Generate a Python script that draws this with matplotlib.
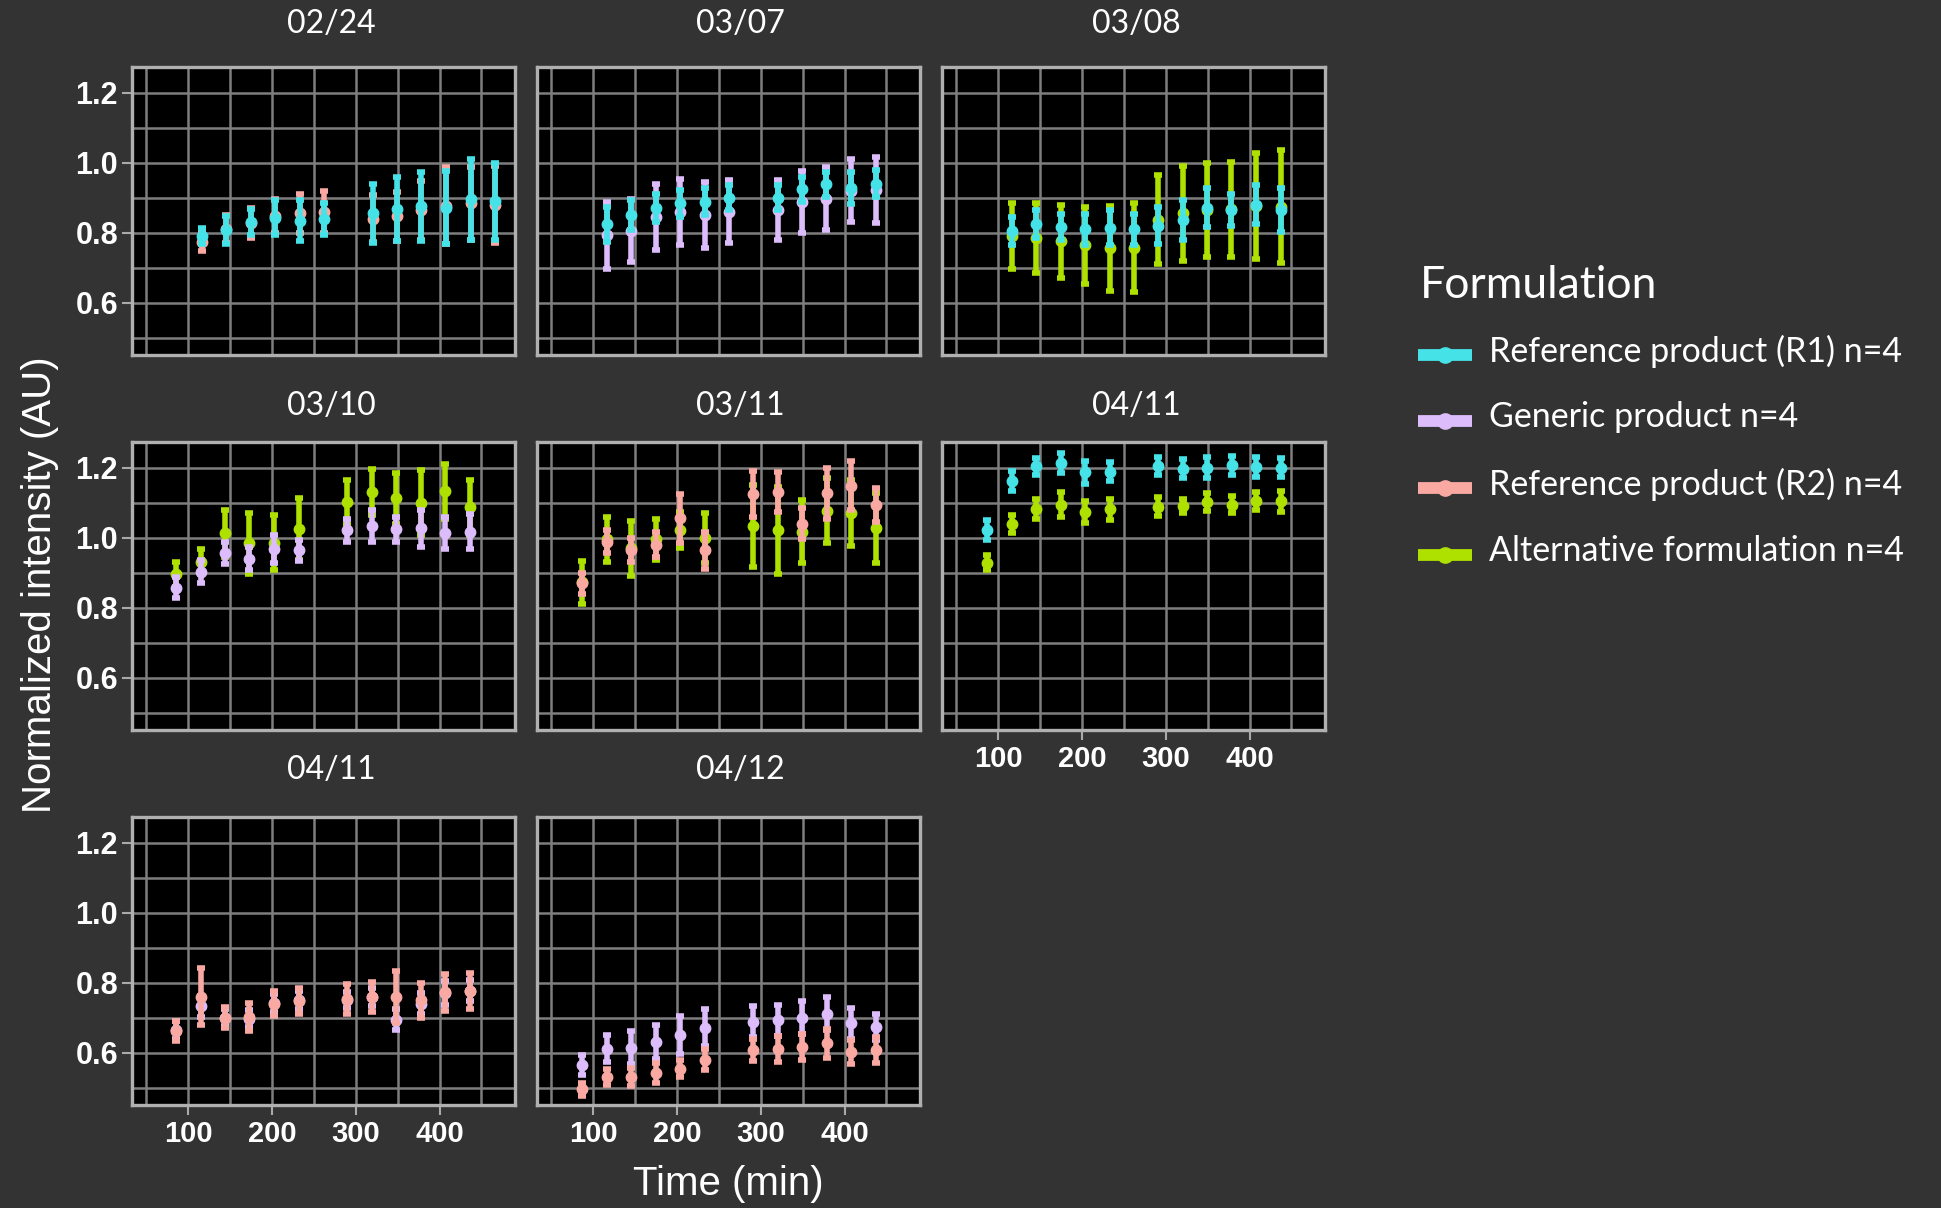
import matplotlib
matplotlib.use("Agg")
import matplotlib.pyplot as plt
from matplotlib.lines import Line2D

# Facet titles, in facet order
panel_titles = ["02/24", "03/07", "03/08", "03/10", "03/11", "04/11", "04/11", "04/12"]

# Sampling times (min)
t_0224 = [116, 145, 175, 204, 233, 262, 320, 349, 378, 408, 437, 466]
t_0307 = [116, 145, 175, 204, 233, 262, 320, 349, 378, 408, 437]
t_0308 = [116, 145, 175, 204, 233, 262, 291, 320, 349, 378, 408, 437]
t_a = [86, 115, 144, 173, 202, 232, 290, 319, 348, 378, 407, 436]
t_b = [87, 116, 145, 175, 204, 233, 291, 320, 349, 379, 408, 437]

# 02/24
p1_r1_mean = [0.79, 0.807, 0.83, 0.842, 0.834, 0.838, 0.855, 0.867, 0.875, 0.871, 0.895, 0.89]
p1_r1_sd = [0.024, 0.04, 0.038, 0.05, 0.058, 0.046, 0.085, 0.092, 0.098, 0.105, 0.115, 0.11]
p1_r2_mean = [0.774, 0.81, 0.828, 0.848, 0.855, 0.86, 0.84, 0.846, 0.863, 0.877, 0.884, 0.88]
p1_r2_sd = [0.027, 0.04, 0.043, 0.048, 0.055, 0.06, 0.067, 0.07, 0.085, 0.111, 0.104, 0.11]

# 03/07
p2_gen_mean = [0.792, 0.805, 0.845, 0.859, 0.851, 0.86, 0.865, 0.888, 0.896, 0.92, 0.921]
p2_gen_sd = [0.095, 0.09, 0.095, 0.095, 0.094, 0.09, 0.085, 0.088, 0.09, 0.091, 0.095]
p2_r1_mean = [0.823, 0.85, 0.87, 0.883, 0.888, 0.9, 0.9, 0.923, 0.938, 0.927, 0.94]
p2_r1_sd = [0.05, 0.043, 0.04, 0.038, 0.038, 0.036, 0.035, 0.036, 0.036, 0.046, 0.038]

# 03/08
p3_alt_mean = [0.79, 0.784, 0.775, 0.763, 0.755, 0.756, 0.837, 0.855, 0.865, 0.866, 0.876, 0.874]
p3_alt_sd = [0.093, 0.099, 0.105, 0.11, 0.121, 0.127, 0.127, 0.135, 0.135, 0.135, 0.152, 0.161]
p3_r1_mean = [0.804, 0.823, 0.816, 0.809, 0.814, 0.809, 0.82, 0.836, 0.871, 0.865, 0.88, 0.864]
p3_r1_sd = [0.04, 0.04, 0.038, 0.045, 0.05, 0.045, 0.053, 0.056, 0.055, 0.046, 0.055, 0.062]

# 03/10
p4_alt_mean = [0.895, 0.931, 1.012, 0.984, 0.985, 1.025, 1.102, 1.13, 1.112, 1.1, 1.132, 1.086]
p4_alt_sd = [0.035, 0.036, 0.068, 0.087, 0.078, 0.088, 0.062, 0.066, 0.072, 0.093, 0.078, 0.078]
p4_gen_mean = [0.857, 0.902, 0.955, 0.94, 0.966, 0.963, 1.021, 1.033, 1.023, 1.026, 1.013, 1.017]
p4_gen_sd = [0.031, 0.033, 0.032, 0.033, 0.04, 0.03, 0.033, 0.045, 0.035, 0.052, 0.047, 0.05]

# 03/11
p5_alt_mean = [0.872, 0.995, 0.969, 0.995, 1.022, 0.998, 1.033, 1.021, 1.016, 1.076, 1.07, 1.027]
p5_alt_sd = [0.061, 0.065, 0.079, 0.058, 0.052, 0.072, 0.117, 0.124, 0.09, 0.093, 0.095, 0.099]
p5_r2_mean = [0.87, 0.988, 0.965, 0.98, 1.055, 0.963, 1.125, 1.13, 1.04, 1.127, 1.148, 1.093]
p5_r2_sd = [0.03, 0.033, 0.035, 0.035, 0.07, 0.053, 0.066, 0.058, 0.045, 0.073, 0.07, 0.048]

# 04/11 (top)
p6_r1_mean = [1.021, 1.162, 1.203, 1.212, 1.186, 1.188, 1.204, 1.197, 1.2, 1.207, 1.201, 1.2]
p6_r1_sd = [0.029, 0.029, 0.023, 0.029, 0.032, 0.027, 0.026, 0.027, 0.029, 0.027, 0.029, 0.027]
p6_alt_mean = [0.928, 1.038, 1.081, 1.094, 1.073, 1.081, 1.088, 1.09, 1.102, 1.094, 1.104, 1.103]
p6_alt_sd = [0.022, 0.025, 0.029, 0.035, 0.031, 0.03, 0.027, 0.02, 0.026, 0.025, 0.025, 0.029]

# 04/11 (bottom)
p7_gen_mean = [0.664, 0.732, 0.7, 0.697, 0.742, 0.75, 0.75, 0.759, 0.694, 0.74, 0.77, 0.776]
p7_gen_sd = [0.025, 0.03, 0.025, 0.025, 0.025, 0.025, 0.024, 0.025, 0.03, 0.03, 0.035, 0.03]
p7_r2_mean = [0.662, 0.76, 0.699, 0.702, 0.74, 0.747, 0.753, 0.759, 0.758, 0.75, 0.772, 0.776]
p7_r2_sd = [0.028, 0.082, 0.03, 0.04, 0.036, 0.036, 0.042, 0.043, 0.075, 0.05, 0.052, 0.052]

# 04/12
p8_gen_mean = [0.564, 0.611, 0.614, 0.63, 0.65, 0.671, 0.688, 0.692, 0.7, 0.711, 0.683, 0.673]
p8_gen_sd = [0.029, 0.039, 0.048, 0.049, 0.053, 0.052, 0.045, 0.045, 0.046, 0.048, 0.043, 0.036]
p8_r2_mean = [0.495, 0.53, 0.53, 0.542, 0.554, 0.58, 0.607, 0.611, 0.616, 0.626, 0.602, 0.607]
p8_r2_sd = [0.018, 0.024, 0.026, 0.028, 0.025, 0.031, 0.031, 0.037, 0.037, 0.042, 0.035, 0.036]

legend_labels = ["Reference product (R1) n=4", "Generic product n=4",
                 "Reference product (R2) n=4", "Alternative formulation n=4"]
colors = {"r1": "#45E3E8", "gen": "#DCBCFA", "r2": "#FAA9A2", "alt": "#AEE000"}
draw_order = {"alt": 1, "gen": 2, "r2": 3, "r1": 4}

panels = [
    (t_0224, [("r1", p1_r1_mean, p1_r1_sd), ("r2", p1_r2_mean, p1_r2_sd)]),
    (t_0307, [("r1", p2_r1_mean, p2_r1_sd), ("gen", p2_gen_mean, p2_gen_sd)]),
    (t_0308, [("r1", p3_r1_mean, p3_r1_sd), ("alt", p3_alt_mean, p3_alt_sd)]),
    (t_a, [("gen", p4_gen_mean, p4_gen_sd), ("alt", p4_alt_mean, p4_alt_sd)]),
    (t_b, [("r2", p5_r2_mean, p5_r2_sd), ("alt", p5_alt_mean, p5_alt_sd)]),
    (t_b, [("r1", p6_r1_mean, p6_r1_sd), ("alt", p6_alt_mean, p6_alt_sd)]),
    (t_a, [("gen", p7_gen_mean, p7_gen_sd), ("r2", p7_r2_mean, p7_r2_sd)]),
    (t_b, [("gen", p8_gen_mean, p8_gen_sd), ("r2", p8_r2_mean, p8_r2_sd)]),
]

W, H = 1941, 1208
BG = "#333333"
AX_FONT = ["Liberation Sans", "DejaVu Sans"]
PPT_FONT = ["Lato", "DejaVu Sans"]

fig = plt.figure(figsize=(W / 100, H / 100), dpi=100, facecolor=BG)

col_left = [132, 537, 942]
title_shift = [8, 12, 3]
row_top = [67, 442, 817]
title_y = [24, 406, 770]
pw, ph = 383, 288


def fx(x):
    return x / W


def fy(y):
    return 1 - y / H


for i, (times, series) in enumerate(panels):
    r, c = divmod(i, 3)
    left, top = col_left[c], row_top[r]
    ax = fig.add_axes([fx(left), fy(top + ph), pw / W, ph / H])
    ax.set_facecolor("black")
    ax.set_xlim(33, 490)
    ax.set_ylim(0.45, 1.273)
    ax.set_xticks([100, 200, 300, 400])
    ax.set_xticks([50, 150, 250, 350, 450], minor=True)
    ax.set_yticks([0.6, 0.8, 1.0, 1.2])
    ax.set_yticks([0.5, 0.7, 0.9, 1.1], minor=True)
    ax.grid(which="both", color="#7E7E7E", lw=1.8)
    ax.set_axisbelow(True)
    for s in ax.spines.values():
        s.set_color("#B0B0B0")
        s.set_linewidth(2.4)

    show_y = c == 0
    show_x = i >= 5
    ax.tick_params(which="minor", length=0)
    ax.tick_params(axis="y", which="major", length=7 if show_y else 0, width=1.5,
                   color="#AAAAAA", labelleft=show_y, labelsize=22, labelcolor="white", pad=3)
    ax.tick_params(axis="x", which="major", length=7 if show_x else 0, width=1.5,
                   color="#AAAAAA", labelbottom=show_x, labelsize=21, labelcolor="white", pad=4)
    if show_y:
        ax.set_yticklabels(["0.6", "0.8", "1.0", "1.2"], family=AX_FONT, fontweight="bold")
    if show_x:
        ax.set_xticklabels(["100", "200", "300", "400"], family=AX_FONT, fontweight="bold")

    for key, mean, sd in series:
        ax.errorbar(times, mean, yerr=sd, fmt="o", color=colors[key], ms=7.5,
                    elinewidth=4, capsize=2.8, capthick=4, zorder=3 + draw_order[key])

    fig.text(fx(left + pw / 2 + title_shift[c]), fy(title_y[r]), panel_titles[i],
             ha="center", va="center", fontsize=23, color="white", family=PPT_FONT)

fig.text(fx(40), fy(585), "Normalized intensity (AU)", rotation=90, ha="center", va="center",
         fontsize=29, color="white", family=AX_FONT)
fig.text(fx(728), fy(1184), "Time (min)", ha="center", va="center",
         fontsize=29, color="white", family=AX_FONT)

# legend
fig.text(fx(1420), fy(285), "Formulation", ha="left", va="center",
         fontsize=32, color="white", family=PPT_FONT)
key_y = [355, 421, 488, 555]
for lab, key, ky in zip(legend_labels, ["r1", "gen", "r2", "alt"], key_y):
    fig.add_artist(Line2D([fx(1418), fx(1472)], [fy(ky), fy(ky)], color=colors[key],
                          lw=8.5, solid_capstyle="butt", transform=fig.transFigure))
    fig.add_artist(Line2D([fx(1445)], [fy(ky)], marker="o", ms=11, color=colors[key],
                          transform=fig.transFigure))
    fig.text(fx(1489), fy(ky - 4), lab, ha="left", va="center",
             fontsize=24.5, color="white", family=PPT_FONT)

fig.savefig("out.png", dpi=100, facecolor=BG)
